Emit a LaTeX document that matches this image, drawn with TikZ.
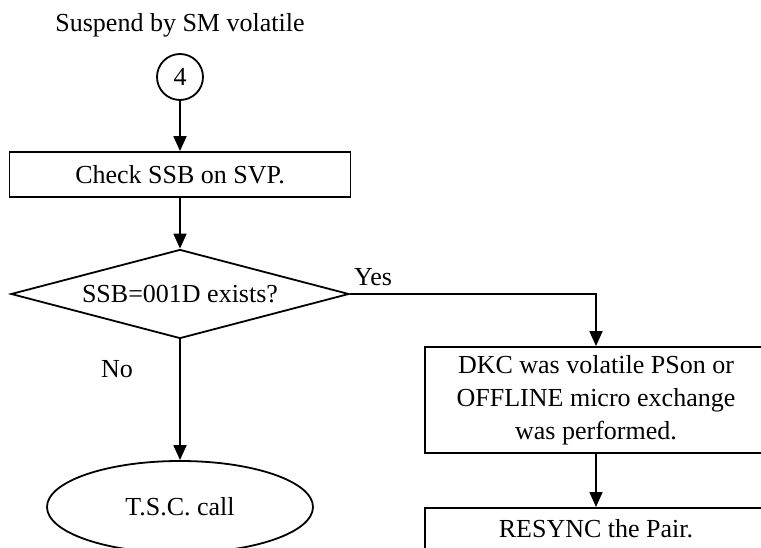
\documentclass[tikz,border=0pt]{standalone}
\usepackage{fontspec}
\setmainfont{Liberation Serif}
\usetikzlibrary{shapes.geometric, arrows.meta}

\begin{document}
\begin{tikzpicture}[x=1pt, y=-1pt, line width=1.8pt,
    font=\fontsize{26}{33}\selectfont,
    >={Triangle[length=15pt, width=13pt]}]

        % 1. Page frame (the picture is cut off at the right and bottom)
        \useasboundingbox (0,0) rectangle (761,548);
        \clip (0,0) rectangle (761,548);

        % 2. Styles of the flowchart parts
        \tikzset{
            proc/.style={draw, rectangle, inner sep=0pt, align=center},
            decision/.style={draw, diamond, aspect=3.8, inner sep=0pt,
                minimum width=338pt, minimum height=89pt},
            term/.style={draw, ellipse, inner sep=0pt,
                minimum width=266pt, minimum height=92pt},
            conn/.style={draw, circle, inner sep=0pt, minimum size=46pt}
        }

        % 3. Left column
        \node (title) at (180,25) {Suspend by SM volatile};
        \node[conn] (start) at (180,77) {4};
        \node[proc, minimum width=341pt, minimum height=45pt] (check) at (180,174.5) {Check SSB on SVP.};
        \node[decision] (ssb) at (180,294) {SSB=001D exists?};
        \node[term] (tsc) at (180,507) {T.S.C. call};

        % 4. Right column
        \node[proc, minimum width=342pt, minimum height=106pt] (dkc) at (596,400)
            {DKC was volatile PSon or\\OFFLINE micro exchange\\was performed.};
        \node[proc, minimum width=342pt, minimum height=42pt, anchor=north] (resync) at (596,507) {RESYNC the Pair.};

        % 5. Branch labels
        \node (yes) at (373,277) {Yes};
        \node (no) at (117,369) {No};

        % 6. Connectors
        \draw[->] (start) -- (check);
        \draw[->] (check) -- (ssb);
        \draw[->] (ssb.east) -| (dkc.north);
        \draw[->] (ssb) -- (tsc);
        \draw[->] (dkc) -- (resync);

    \end{tikzpicture}
\end{document}
